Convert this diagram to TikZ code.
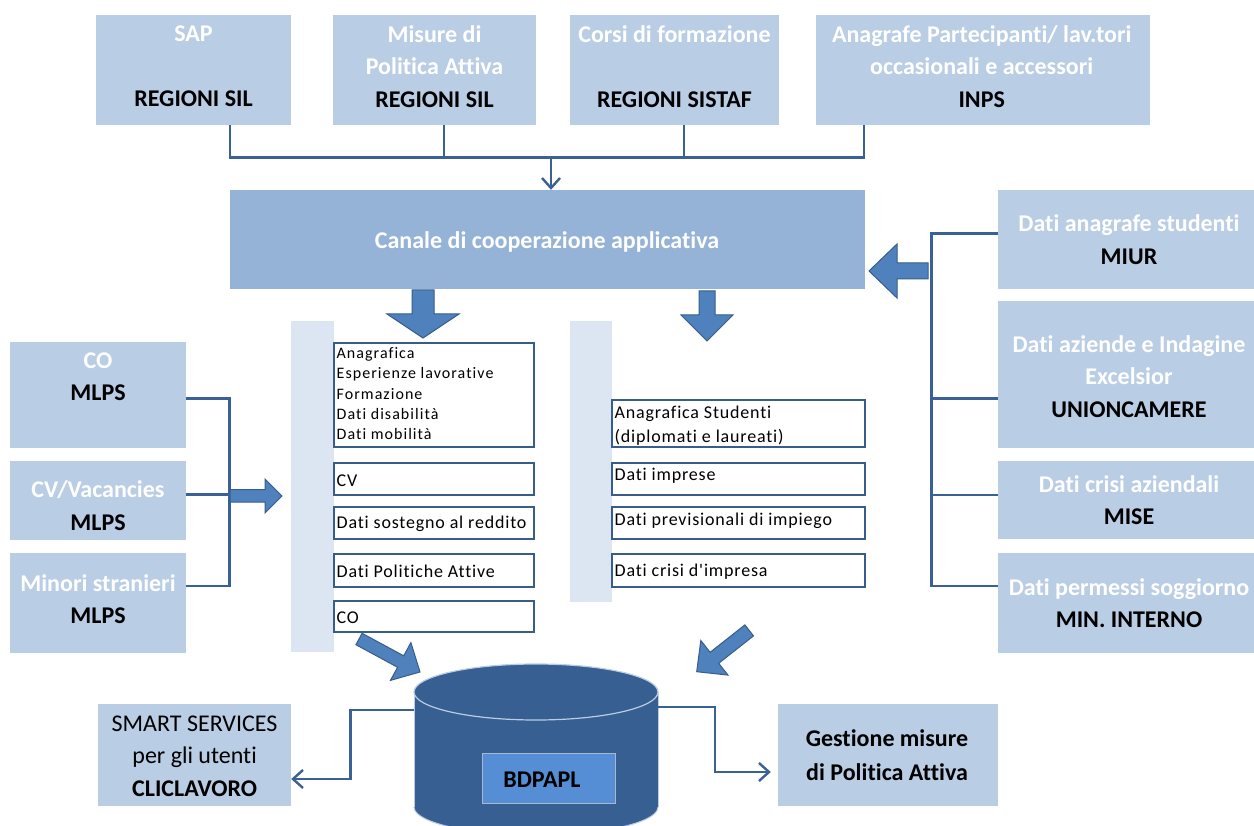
\documentclass[tikz,border=0pt]{standalone}
\usepackage{fontspec}
\setmainfont{Carlito}[Ligatures=NoCommon]
\newfontfamily\listfont[LetterSpace=4.5,Ligatures=NoCommon]{Carlito}
\newfontfamily\smallfont[LetterSpace=6.5,Ligatures=NoCommon]{Carlito}
\usetikzlibrary{arrows.meta}
\definecolor{boxfill}{HTML}{B9CDE5}
\definecolor{canfill}{HTML}{95B3D7}
\definecolor{panfill}{HTML}{DCE6F2}
\definecolor{connc}{HTML}{3A6196}
\definecolor{listc}{HTML}{385D8A}
\definecolor{arrfill}{HTML}{4F81BD}
\definecolor{arrdraw}{HTML}{385D8A}
\definecolor{cylfill}{HTML}{375F92}
\definecolor{cylline}{HTML}{BCCDE3}
\definecolor{bdfill}{HTML}{558ED5}
\definecolor{bddraw}{HTML}{A9B8CC}
\tikzset{
  srcbox/.style={fill=boxfill, draw=none, inner sep=0pt},
  canbox/.style={fill=canfill, draw=none, inner sep=0pt},
  panel/.style={fill=panfill, draw=none, inner sep=0pt},
  listbox/.style={draw=listc, line width=2pt, fill=white, inner sep=0pt},
  btxt/.style={text=white, font=\bfseries\fontsize{24pt}{32.5pt}\selectfont, align=center, inner sep=0pt},
  ltxt/.style={text=black, font=\listfont\fontsize{18pt}{23.7pt}\selectfont, align=left, inner sep=0pt, anchor=west},
  stxt/.style={text=black, font=\smallfont\fontsize{16pt}{20.2pt}\selectfont, align=left, inner sep=0pt, anchor=west},
  conn/.style={draw=connc, line width=2.8pt},
  barb/.style={-{Straight Barb[length=10pt,width=18pt,line width=2.4pt]}},
  blockarrow/.style={fill=arrfill, draw=arrdraw, line width=1pt, line join=miter},
}
\begin{document}
\begin{tikzpicture}[x=1pt,y=-1pt]
\useasboundingbox (0,0) rectangle (1254,826);
\fill[white] (0,0) rectangle (1254,826);

% ---------- top source boxes ----------
\node[srcbox, minimum width=195pt, minimum height=110pt] (sap) at (193.5,70) {};
\node[srcbox, minimum width=203pt, minimum height=110pt] (mis) at (434.5,70) {};
\node[srcbox, minimum width=209pt, minimum height=110pt] (cor) at (674.5,70) {};
\node[srcbox, minimum width=334pt, minimum height=110pt] (inp) at (983,70) {};
\node[btxt] (sapT) at (193.5,66.2) {SAP\\\mbox{}\\\color{black}REGIONI SIL};
\node[btxt] (misT) at (434.5,66.2) {Misure di\\Politica Attiva\\\color{black}REGIONI SIL};
\node[btxt] (corT) at (674.5,66.2) {Corsi di formazione\\\mbox{}\\\color{black}REGIONI SISTAF};
\node[btxt] (inpT) at (981.7,66.2) {Anagrafe Partecipanti/ lav.tori\\occasionali e accessori\\\color{black}INPS};

% ---------- channel ----------
\node[canbox, minimum width=635pt, minimum height=99pt] (can) at (547.5,239.5) {};
\node[btxt] (canT) at (547,241.7) {Canale di cooperazione applicativa};

% ---------- top bus ----------
\coordinate (bus1) at (230,157.7);
\coordinate (bus2) at (444,157.7);
\coordinate (bus3) at (684,157.7);
\coordinate (bus4) at (864,157.7);
\coordinate (busm) at (551,157.7);
\draw[conn] (sap.south -| bus1) -- (bus1) -- (bus4) -- (inp.south -| bus4);
\draw[conn] (mis.south -| bus2) -- (bus2);
\draw[conn] (cor.south -| bus3) -- (bus3);
\draw[conn, barb] (busm) -- (can.north -| busm);

% ---------- left source boxes ----------
\node[srcbox, minimum width=176pt, minimum height=106pt] (lco) at (98,395) {};
\node[srcbox, minimum width=176pt, minimum height=79pt] (lcv) at (98,500.5) {};
\node[srcbox, minimum width=176pt, minimum height=100pt] (lmin) at (98,603) {};
\node[btxt] (lcoT) at (98,376.7) {CO\\\color{black}MLPS};
\node[btxt] (lcvT) at (98,505.8) {CV/Vacancies\\\color{black}MLPS};
\node[btxt] (lminT) at (98,599) {Minori stranieri\\\color{black}MLPS};

\coordinate (lbus1) at (229.3,398.3);
\coordinate (lbus2) at (229.3,494.5);
\coordinate (lbus3) at (229.3,586);
\draw[conn] (lco.east |- lbus1) -- (lbus1) -- (lbus3) -- (lmin.east |- lbus3);
\draw[conn] (lcv.east |- lbus2) -- (lbus2);

% ---------- right source boxes ----------
\node[srcbox, minimum width=256pt, minimum height=99pt] (miur) at (1126,239.5) {};
\node[srcbox, minimum width=256pt, minimum height=147pt] (union) at (1126,374.5) {};
\node[srcbox, minimum width=256pt, minimum height=78pt] (mise) at (1126,500) {};
\node[srcbox, minimum width=256pt, minimum height=100pt] (minint) at (1126,603) {};
\node[btxt] (miurT) at (1129,239.7) {Dati anagrafe studenti\\\color{black}MIUR};
\node[btxt] (unionT) at (1129,376.2) {Dati aziende e Indagine\\Excelsior\\\color{black}UNIONCAMERE};
\node[btxt] (miseT) at (1129,500.3) {Dati crisi aziendali\\\color{black}MISE};
\node[btxt] (minintT) at (1129,603.3) {Dati permessi soggiorno\\\color{black}MIN. INTERNO};

\coordinate (rbus1) at (931.3,233.3);
\coordinate (rbus2) at (931.3,398.3);
\coordinate (rbus3) at (931.3,495);
\coordinate (rbus4) at (931.3,586);
\draw[conn] (miur.west |- rbus1) -- (rbus1) -- (rbus4) -- (minint.west |- rbus4);
\draw[conn] (union.west |- rbus2) -- (rbus2);
\draw[conn] (mise.west |- rbus3) -- (rbus3);

% ---------- panels and lists ----------
\node[panel, minimum width=43pt, minimum height=331pt] (lpan) at (312.5,486.5) {};
\node[panel, minimum width=42pt, minimum height=281pt] (rpan) at (591,461.5) {};

\node[listbox, minimum width=200pt, minimum height=104pt] (l1) at (434,395) {};
\node[listbox, minimum width=200pt, minimum height=32pt] (l2) at (434,479) {};
\node[listbox, minimum width=200pt, minimum height=32pt] (l3) at (434,523) {};
\node[listbox, minimum width=200pt, minimum height=33pt] (l4) at (434,570.5) {};
\node[listbox, minimum width=200pt, minimum height=31pt] (l5) at (434,616.5) {};
\node[stxt] (l1T) at (336.5,393.7) {Anagrafica\\Esperienze lavorative\\Formazione\\Dati disabilità\\Dati mobilità};
\node[ltxt] (l2T) at (336.5,481) {CV};
\node[ltxt] (l3T) at (336.5,524) {Dati sostegno al reddito};
\node[ltxt] (l4T) at (336.5,571.5) {Dati Politiche Attive};
\node[ltxt] (l5T) at (336.5,617.5) {CO};

\node[listbox, minimum width=253pt, minimum height=47pt] (r1) at (738.5,423.5) {};
\node[listbox, minimum width=253pt, minimum height=32pt] (r2) at (738.5,479) {};
\node[listbox, minimum width=253pt, minimum height=32pt] (r3) at (738.5,523) {};
\node[listbox, minimum width=253pt, minimum height=33pt] (r4) at (738.5,570.5) {};
\node[ltxt] (r1T) at (614.5,425.5) {Anagrafica Studenti\\(diplomati e laureati)};
\node[ltxt] (r2T) at (614.5,475.5) {Dati imprese};
\node[ltxt] (r3T) at (614.5,520.5) {Dati previsionali di impiego};
\node[ltxt] (r4T) at (614.5,571.5) {Dati crisi d'impresa};

% ---------- block arrows ----------
\draw[blockarrow] (412,290) -- (434,290) -- (434,314) -- (459,314) -- (423,338) -- (387,314) -- (412,314) -- cycle;
\draw[blockarrow] (699,291) -- (715,291) -- (715,315) -- (733,315) -- (707,341) -- (681,315) -- (699,315) -- cycle;
\draw[blockarrow] (928,263) -- (928,279) -- (897,279) -- (897,298) -- (869,271) -- (897,244) -- (897,263) -- cycle;
\draw[blockarrow] (230,489.5) -- (265,489.5) -- (265,479) -- (282,496) -- (265,513) -- (265,502) -- (230,502) -- cycle;
\draw[blockarrow] (362.1,633.3) -- (403.7,655.8) -- (410.9,642.6) -- (420,672) -- (390.4,680.4) -- (397.6,667.3) -- (355.9,644.7) -- cycle;
\draw[blockarrow] (744.9,624.9) -- (710.1,652.3) -- (700.8,640.5) -- (696.7,671.7) -- (728.0,675.1) -- (718.7,663.3) -- (753.5,635.9) -- cycle;

% ---------- database cylinder ----------
\fill[cylfill] (414,692) rectangle (658,807);
\fill[cylfill] (536,807) ellipse [x radius=122, y radius=28];
\draw[cylline, line width=1pt] (414,692) -- (414,807);
\draw[cylline, line width=1pt] (658,692) -- (658,807);
\begin{scope}
  \clip (400,807) rectangle (680,840);
  \draw[cylline, line width=1pt] (536,807) ellipse [x radius=122, y radius=28];
\end{scope}
\filldraw[fill=cylfill, draw=cylline, line width=1.2pt] (536,692) ellipse [x radius=122, y radius=28];
\coordinate (cylL) at (414,710);
\coordinate (cylR) at (658,707);

\node[fill=bdfill, draw=bddraw, line width=1pt, minimum width=133pt, minimum height=50pt, inner sep=0pt] (bd) at (549,778.5) {};
\node[btxt, text=black] (bdT) at (542,779.3) {BDPAPL};

% ---------- bottom boxes ----------
\node[srcbox, minimum width=193pt, minimum height=102pt] (smart) at (194.5,755) {};
\node[srcbox, minimum width=220pt, minimum height=102pt] (gest) at (888,755) {};
\node[btxt, text=black, font=\fontsize{24pt}{32.5pt}\selectfont] (smartT) at (194.6,756) {SMART SERVICES\\per gli utenti\\\bfseries CLICLAVORO};
\node[btxt, text=black, font=\bfseries\fontsize{24pt}{33.4pt}\selectfont] (gestT) at (887,755) {Gestione misure\\di Politica Attiva};

\coordinate (sm1) at (350.7,710);
\coordinate (sm2) at (350.7,779);
\draw[conn, barb] (cylL) -- (sm1) -- (sm2) -- (smart.east |- sm2);
\coordinate (gs1) at (715,707);
\coordinate (gs2) at (715,772);
\draw[conn, barb, shorten >=7pt] (cylR) -- (gs1) -- (gs2) -- (gest.west |- gs2);
\end{tikzpicture}
\end{document}
